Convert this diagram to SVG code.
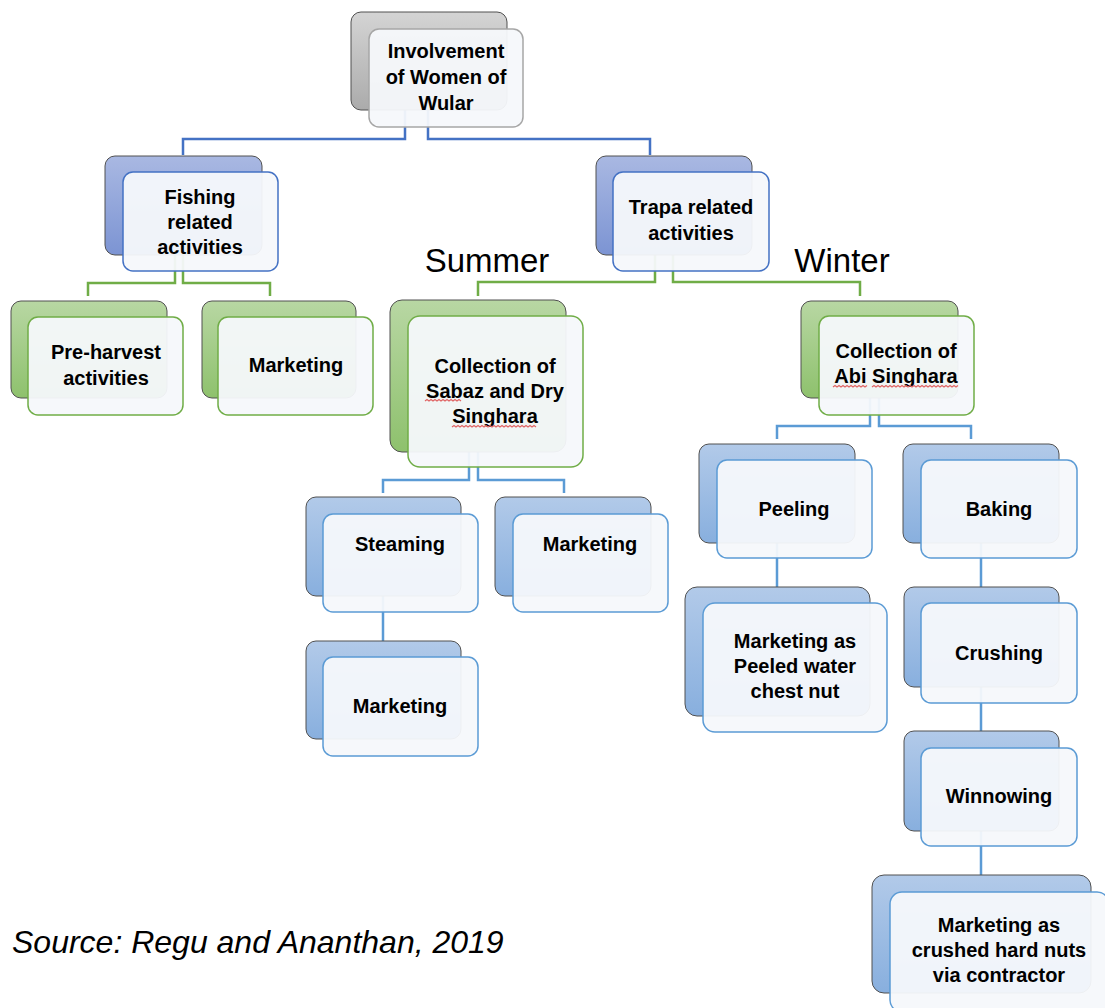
<svg xmlns="http://www.w3.org/2000/svg" width="1105" height="1008" viewBox="0 0 1105 1008">
<defs>
<linearGradient id="gGray" x1="0" y1="0" x2="0" y2="1"><stop offset="0" stop-color="#D4D4D4"/><stop offset="1" stop-color="#ABABAB"/></linearGradient>
<linearGradient id="gBlue" x1="0" y1="0" x2="0" y2="1"><stop offset="0" stop-color="#A9B8E2"/><stop offset="1" stop-color="#7C94D3"/></linearGradient>
<linearGradient id="gGreen" x1="0" y1="0" x2="0" y2="1"><stop offset="0" stop-color="#B8D7A3"/><stop offset="1" stop-color="#8EC16D"/></linearGradient>
<linearGradient id="gLBlue" x1="0" y1="0" x2="0" y2="1"><stop offset="0" stop-color="#B2CAE9"/><stop offset="1" stop-color="#88AFDE"/></linearGradient>
</defs>
<style>
.back{stroke:#505050;stroke-width:1}
.front{fill:#F6F8FB;fill-opacity:0.95;stroke-width:1.5}
.gray .back{fill:url(#gGray)} .gray .front{stroke:#A6A6A6}
.blue .back{fill:url(#gBlue)} .blue .front{stroke:#4472C4}
.green .back{fill:url(#gGreen)} .green .front{stroke:#70AD47}
.lblue .back{fill:url(#gLBlue)} .lblue .front{stroke:#5B9BD5}
.t{font-family:"Liberation Sans",Arial,sans-serif;font-weight:bold;font-size:20px;text-anchor:middle;fill:#000}
.c{fill:none;stroke-width:2.5}
.cb{stroke:#4472C4} .cg{stroke:#70AD47} .cl{stroke:#5B9BD5}
.sq{fill:none;stroke:#E06666;stroke-width:1.2}
.season{font-family:"Liberation Sans",Arial,sans-serif;font-size:33px;fill:#000;text-anchor:middle}
</style>
<g id="connectors">
<path class="c cb" d="M405,110 V139 H183 V155"/>
<path class="c cb" d="M428,110 V139 H650 V155"/>
<path class="c cg" d="M175,255 V283 H88 V296"/>
<path class="c cg" d="M183,255 V283 H270 V296"/>
<path class="c cg" d="M655,255 V282 H478 V296"/>
<path class="c cg" d="M673,255 V282 H860 V296"/>
<path class="c cl" d="M469,452 V480 H383 V493"/>
<path class="c cl" d="M478,452 V480 H564 V493"/>
<path class="c cl" d="M870,398 V426 H777 V439"/>
<path class="c cl" d="M879,398 V426 H971 V439"/>
<path class="c cl" d="M383,596 V641"/>
<path class="c cl" d="M777,543 V587"/>
<path class="c cl" d="M981,543 V587"/>
<path class="c cl" d="M981,687 V731"/>
<path class="c cl" d="M981,831 V875"/>
</g>
<g id="n-top" class="gray">
<rect class="back" x="351" y="12" width="156" height="98" rx="10"/>
<rect class="front" x="369" y="29" width="154" height="98" rx="10"/>
<text class="t" x="446" y="58">Involvement</text>
<text class="t" x="446" y="84">of Women of</text>
<text class="t" x="446" y="110">Wular</text>
</g>
<g id="n-fishing" class="blue">
<rect class="back" x="105" y="156" width="157" height="99" rx="10"/>
<rect class="front" x="123" y="172" width="155" height="99" rx="10"/>
<text class="t" x="200" y="204">Fishing</text>
<text class="t" x="200" y="229">related</text>
<text class="t" x="200" y="254">activities</text>
</g>
<g id="n-trapa" class="blue">
<rect class="back" x="596" y="156" width="156" height="99" rx="10"/>
<rect class="front" x="613" y="172" width="156" height="99" rx="10"/>
<text class="t" x="691" y="214">Trapa related</text>
<text class="t" x="691" y="240">activities</text>
</g>
<text class="season" x="487" y="272">Summer</text>
<text class="season" x="842" y="272">Winter</text>
<g id="n-preharvest" class="green">
<rect class="back" x="11" y="301" width="156" height="97" rx="10"/>
<rect class="front" x="28" y="317" width="155" height="98" rx="10"/>
<text class="t" x="106" y="359">Pre-harvest</text>
<text class="t" x="106" y="385">activities</text>
</g>
<g id="n-fish-marketing" class="green">
<rect class="back" x="202" y="301" width="154" height="97" rx="10"/>
<rect class="front" x="218" y="317" width="155" height="98" rx="10"/>
<text class="t" x="296" y="372">Marketing</text>
</g>
<g id="n-sabaz" class="green">
<rect class="back" x="390" y="300" width="176" height="152" rx="12"/>
<rect class="front" x="408" y="316" width="175" height="151" rx="12"/>
<text class="t" x="495" y="373">Collection of</text>
<text class="t" x="495" y="398">Sabaz and Dry</text>
<text class="t" x="495" y="423">Singhara</text>
<path class="sq" d="M425,401 l2,-1.5 l2,1.5 l2,-1.5 l2,1.5 l2,-1.5 l2,1.5 l2,-1.5 l2,1.5 l2,-1.5 l2,1.5 l2,-1.5 l2,1.5 l2,-1.5 l2,1.5 l2,-1.5 l2,1.5 l2,-1.5 l2,1.5"/>
<path class="sq" d="M452,427 l2,-1.5 l2,1.5 l2,-1.5 l2,1.5 l2,-1.5 l2,1.5 l2,-1.5 l2,1.5 l2,-1.5 l2,1.5 l2,-1.5 l2,1.5 l2,-1.5 l2,1.5 l2,-1.5 l2,1.5 l2,-1.5 l2,1.5 l2,-1.5 l2,1.5 l2,-1.5 l2,1.5 l2,-1.5 l2,1.5 l2,-1.5 l2,1.5 l2,-1.5 l2,1.5 l2,-1.5 l2,1.5 l2,-1.5 l2,1.5 l2,-1.5 l2,1.5 l2,-1.5 l2,1.5 l2,-1.5 l2,1.5 l2,-1.5 l2,1.5 l2,-1.5 l2,1.5"/>
</g>
<g id="n-abi" class="green">
<rect class="back" x="801" y="301" width="157" height="97" rx="10"/>
<rect class="front" x="819" y="316" width="155" height="99" rx="10"/>
<text class="t" x="896" y="358">Collection of</text>
<text class="t" x="896" y="383">Abi Singhara</text>
<path class="sq" d="M833,387 l2,-1.5 l2,1.5 l2,-1.5 l2,1.5 l2,-1.5 l2,1.5 l2,-1.5 l2,1.5 l2,-1.5 l2,1.5 l2,-1.5 l2,1.5 l2,-1.5 l2,1.5 l2,-1.5 l2,1.5 l2,-1.5"/>
<path class="sq" d="M872,387 l2,-1.5 l2,1.5 l2,-1.5 l2,1.5 l2,-1.5 l2,1.5 l2,-1.5 l2,1.5 l2,-1.5 l2,1.5 l2,-1.5 l2,1.5 l2,-1.5 l2,1.5 l2,-1.5 l2,1.5 l2,-1.5 l2,1.5 l2,-1.5 l2,1.5 l2,-1.5 l2,1.5 l2,-1.5 l2,1.5 l2,-1.5 l2,1.5 l2,-1.5 l2,1.5 l2,-1.5 l2,1.5 l2,-1.5 l2,1.5 l2,-1.5 l2,1.5 l2,-1.5 l2,1.5 l2,-1.5 l2,1.5 l2,-1.5 l2,1.5 l2,-1.5 l2,1.5 l2,-1.5"/>
</g>
<g id="n-steaming" class="lblue">
<rect class="back" x="306" y="497" width="155" height="99" rx="10"/>
<rect class="front" x="323" y="514" width="155" height="98" rx="10"/>
<text class="t" x="400" y="551">Steaming</text>
</g>
<g id="n-summer-marketing" class="lblue">
<rect class="back" x="495" y="497" width="156" height="99" rx="10"/>
<rect class="front" x="513" y="514" width="155" height="98" rx="10"/>
<text class="t" x="590" y="551">Marketing</text>
</g>
<g id="n-steam-marketing" class="lblue">
<rect class="back" x="306" y="641" width="155" height="98" rx="10"/>
<rect class="front" x="323" y="657" width="155" height="99" rx="10"/>
<text class="t" x="400" y="713">Marketing</text>
</g>
<g id="n-peeling" class="lblue">
<rect class="back" x="699" y="444" width="156" height="99" rx="10"/>
<rect class="front" x="717" y="460" width="155" height="98" rx="10"/>
<text class="t" x="794" y="516">Peeling</text>
</g>
<g id="n-baking" class="lblue">
<rect class="back" x="903" y="444" width="156" height="99" rx="10"/>
<rect class="front" x="921" y="460" width="156" height="98" rx="10"/>
<text class="t" x="999" y="516">Baking</text>
</g>
<g id="n-peeled" class="lblue">
<rect class="back" x="685" y="587" width="185" height="129" rx="12"/>
<rect class="front" x="703" y="603" width="184" height="129" rx="12"/>
<text class="t" x="795" y="648">Marketing as</text>
<text class="t" x="795" y="673">Peeled water</text>
<text class="t" x="795" y="698">chest nut</text>
</g>
<g id="n-crushing" class="lblue">
<rect class="back" x="904" y="587" width="155" height="100" rx="10"/>
<rect class="front" x="921" y="603" width="156" height="100" rx="10"/>
<text class="t" x="999" y="660">Crushing</text>
</g>
<g id="n-winnowing" class="lblue">
<rect class="back" x="904" y="731" width="155" height="100" rx="10"/>
<rect class="front" x="921" y="748" width="156" height="98" rx="10"/>
<text class="t" x="999" y="803">Winnowing</text>
</g>
<g id="n-crushed-marketing" class="lblue">
<rect class="back" x="872" y="875" width="219" height="118" rx="12"/>
<rect class="front" x="890" y="892" width="219" height="120" rx="12"/>
<text class="t" x="999" y="932">Marketing as</text>
<text class="t" x="999" y="957">crushed hard nuts</text>
<text class="t" x="999" y="982">via contractor</text>
</g>
<text x="12" y="953" font-family="Liberation Sans, Arial, sans-serif" font-style="italic" font-size="32" fill="#000">Source: Regu and Ananthan, 2019</text>
</svg>
